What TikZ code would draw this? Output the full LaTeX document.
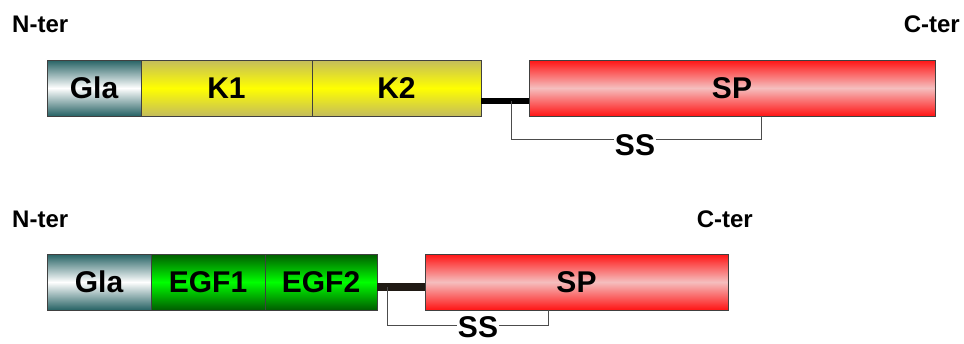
\documentclass[tikz,border=0pt]{standalone}
\usepackage{fontspec}
\setmainfont{Liberation Sans}
\usetikzlibrary{positioning}

\definecolor{glaDark}{RGB}{38,98,100}
\definecolor{krDark}{RGB}{196,188,92}
\definecolor{krLight}{RGB}{255,255,0}
\definecolor{egfDark}{RGB}{0,92,0}
\definecolor{egfLight}{RGB}{0,255,0}
\definecolor{spDark}{RGB}{255,20,20}
\definecolor{spLight}{RGB}{245,190,190}
\definecolor{linkDark}{RGB}{32,26,20}

\tikzset{
  protbox/.style={draw=black!75, line width=0.8pt, minimum height=56pt,
    inner sep=0pt, outer sep=0pt, font=\fontsize{30}{30}\selectfont\bfseries},
  gla/.style={protbox, top color=glaDark, bottom color=glaDark, middle color=white},
  kringle/.style={protbox, top color=krDark, bottom color=krDark, middle color=krLight},
  egf/.style={protbox, top color=egfDark, bottom color=egfDark, middle color=egfLight},
  serprot/.style={protbox, top color=spDark, bottom color=spDark, middle color=spLight},
  term/.style={font=\fontsize{24}{24}\selectfont\bfseries, inner sep=0pt},
  sslabel/.style={font=\fontsize{30}{30}\selectfont\bfseries, fill=white, inner sep=0.5pt},
  bond/.style={draw=black!70, line width=0.9pt}
}

\begin{document}
\begin{tikzpicture}[x=1pt, y=-1pt]
  \useasboundingbox (0,0) rectangle (964,343);

  % --- prima proteina: Gla - K1 - K2 - SP ---
  \node[term, anchor=west] (nter1) at (12,24) {N-ter};
  \node[term, anchor=east] (cter1) at (960,24) {C-ter};

  \node[gla, minimum width=94pt, anchor=west] (gla1) at (47,88) {Gla};
  \node[kringle, minimum width=171pt, right=0pt of gla1] (k1) {K1};
  \node[kringle, minimum width=169pt, right=0pt of k1] (k2) {K2};
  \node[serprot, minimum width=406pt, anchor=west] (sp1) at (529,88) {SP};

  % linker e ponte disolfuro
  \draw[line width=6pt, black] ([yshift=-13pt]k2.east) -- ([yshift=-13pt]sp1.west);
  \coordinate (ss1a) at ([xshift=-18pt, yshift=-13pt]sp1.west);
  \coordinate (ss1b) at ([xshift=232pt]sp1.south west);
  \draw[bond] (ss1a) -- ++(0,38) -| (ss1b);
  \node[sslabel] (ss1) at (635,145) {SS};

  % --- seconda proteina: Gla - EGF1 - EGF2 - SP ---
  \node[term, anchor=west] (nter2) at (12,219) {N-ter};
  \node[term, anchor=east] (cter2) at (753,219) {C-ter};

  \node[gla, minimum width=104pt, anchor=west] (gla2) at (47,282) {Gla};
  \node[egf, minimum width=114pt, right=0pt of gla2] (egf1) {EGF1};
  \node[egf, minimum width=112pt, right=0pt of egf1] (egf2) {EGF2};
  \node[serprot, minimum width=303pt, anchor=west] (sp2) at (425,282) {SP};

  % linker e ponte disolfuro
  \draw[line width=8pt, linkDark] ([yshift=-5pt]egf2.east) -- ([yshift=-5pt]sp2.west);
  \coordinate (ss2a) at ([xshift=-38pt, yshift=-5pt]sp2.west);
  \coordinate (ss2b) at ([xshift=123pt]sp2.south west);
  \draw[bond] (ss2a) -- ++(0,38) -| (ss2b);
  \node[sslabel] (ss2) at (478,327) {SS};

\end{tikzpicture}
\end{document}
